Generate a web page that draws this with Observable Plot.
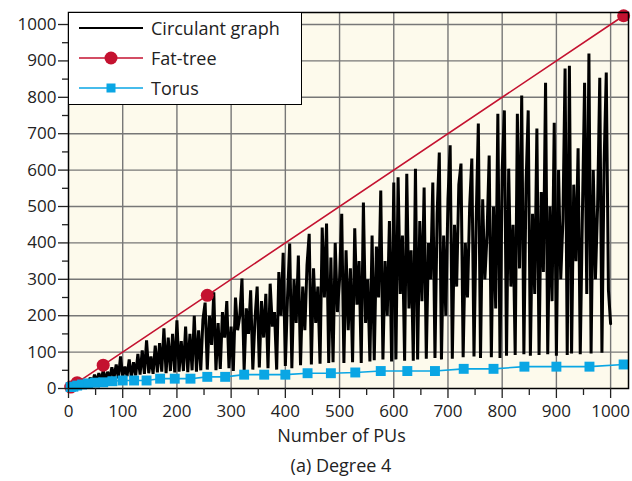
<!DOCTYPE html>
<html>
<head>
<meta charset="utf-8">
<script src="https://cdn.jsdelivr.net/npm/d3@7"></script>
<script src="https://cdn.jsdelivr.net/npm/@observablehq/plot@0.6"></script>
<style>
  html, body { margin: 0; padding: 0; background: #ffffff; }
  #wrap { position: relative; width: 632px; height: 481px; font-family: "Open Sans", sans-serif; color: #222; }
  #caption { position: absolute; left: 0; top: 452px; width: 682px; text-align: center; font-size: 18px; line-height: 26px; }
  #legend { position: absolute; left: 68px; top: 12px; width: 232px; height: 91px; background: #fff; border: 1.5px solid #000; }
  #legend .row { position: absolute; left: 0; height: 30px; width: 232px; }
  #legend svg { position: absolute; left: 8px; top: 0; }
  #legend span { position: absolute; left: 82px; top: 2px; font-size: 18px; line-height: 26px; }
</style>
</head>
<body>
<div id="wrap">
  <div id="chart"></div>
  <div id="legend"></div>
  <div id="caption">(a) Degree 4</div>
</div>
<script>
// ---------- data ----------
// Circulant graph, x = 4, 8, ..., 1000
const circulantX = d3.range(4, 1001, 4);
const circulantY = [
  3, 7, 4, 12, 6, 17, 8, 24, 10, 30,
  14, 38, 18, 42, 20, 50, 22, 46, 26, 58,
  30, 66, 28, 88, 32, 60, 34, 80, 30, 72,
  36, 95, 38, 105, 40, 132, 42, 88, 40, 118,
  44, 125, 46, 165, 42, 140, 48, 150, 44, 187,
  46, 130, 48, 170, 45, 150, 50, 200, 46, 160,
  50, 190, 236, 52, 200, 120, 264, 50, 180, 54,
  210, 140, 240, 56, 170, 48, 250, 160, 200, 302,
  50, 220, 150, 270, 52, 190, 280, 58, 240, 140,
  260, 56, 288, 170, 210, 52, 320, 200, 373, 62,
  250, 398, 56, 300, 180, 365, 64, 280, 160, 340,
  425, 66, 330, 180, 280, 68, 442, 250, 453, 70,
  360, 72, 400, 210, 300, 480, 70, 380, 160, 330,
  72, 440, 230, 350, 70, 511, 180, 300, 74, 420,
  78, 390, 250, 544, 80, 350, 200, 460, 74, 566,
  80, 580, 260, 420, 76, 590, 220, 380, 76, 604,
  80, 460, 240, 552, 82, 400, 300, 566, 84, 480,
  648, 80, 420, 200, 520, 668, 82, 450, 280, 560,
  618, 86, 400, 250, 500, 632, 88, 460, 728, 84,
  520, 300, 420, 640, 86, 500, 220, 755, 84, 600,
  764, 90, 604, 280, 450, 92, 755, 330, 805, 94,
  560, 764, 90, 480, 260, 714, 92, 540, 320, 840,
  94, 500, 240, 730, 90, 600, 300, 460, 879, 92,
  887, 96, 560, 350, 660, 94, 480, 840, 260, 920,
  96, 600, 300, 500, 854, 98, 620, 868, 270, 178
];
// Fat-tree
const fatX = [4, 16, 64, 256, 1024];
const fatY = [4, 16, 64, 256, 1024];
// Torus
const torusX = [4, 9, 16, 25, 36, 49, 64, 81, 100, 121, 144, 169, 196, 225, 256, 289, 324, 361, 400,
                441, 484, 529, 576, 625, 676, 729, 784, 841, 900, 961, 1024];
const torusY = [4, 5, 8, 11, 14, 16, 17, 20, 22, 22, 22, 27, 27, 27, 32, 32, 38, 38, 38,
                42, 42, 44, 48, 48, 48, 54, 54, 60, 60, 60, 66];

const xTicks = d3.range(0, 1001, 100);
const yTicks = d3.range(0, 1001, 100);
const minorTicks = d3.range(50, 1001, 100);

const circ = circulantX.map((x, i) => ({x, y: circulantY[i]}));
const fat = fatX.map((x, i) => ({x, y: fatY[i]}));
const torus = torusX.map((x, i) => ({x, y: torusY[i]}));

const RED = "#c41230";
const BLUE = "#0aa6e4";

const chart = Plot.plot({
  width: 632,
  height: 452,
  marginLeft: 68,
  marginRight: 4,
  marginTop: 12,
  marginBottom: 64,
  style: {fontFamily: "Open Sans, sans-serif", fontSize: "17px", color: "#222", background: "transparent", overflow: "visible"},
  x: {domain: [0, 1033]},
  y: {domain: [0, 1033]},
  marks: [
    Plot.frame({fill: "#fdfaec", stroke: null}),
    Plot.gridX(xTicks.slice(1), {stroke: "#777", strokeOpacity: 1, strokeWidth: 1.4}),
    Plot.gridY(yTicks.slice(1), {stroke: "#777", strokeOpacity: 1, strokeWidth: 1.4}),
    Plot.line(circ, {x: "x", y: "y", stroke: "#000", strokeWidth: 3, strokeLinejoin: "miter"}),
    Plot.line(fat, {x: "x", y: "y", stroke: RED, strokeWidth: 1.6}),
    Plot.dot(fat, {x: "x", y: "y", r: 6.5, fill: RED, stroke: null}),
    Plot.line(torus, {x: "x", y: "y", stroke: BLUE, strokeWidth: 1.6}),
    Plot.dot(torus, {x: "x", y: "y", r: 5.6, symbol: "square", fill: BLUE, stroke: null}),
    Plot.frame({stroke: "#000", strokeWidth: 1.5}),
    Plot.axisX(xTicks, {tickSize: 10, tickPadding: 6, strokeWidth: 1.3, label: null, fontSize: 17, tickFormat: "d"}),
    Plot.axisX(minorTicks, {tickSize: 7, text: null, strokeWidth: 1.3, label: null}),
    Plot.axisY(yTicks, {tickSize: 10, tickPadding: 2, strokeWidth: 1.3, label: null, fontSize: 17, tickFormat: "d"}),
    Plot.axisY(minorTicks, {tickSize: 6, text: null, strokeWidth: 1.3, label: null}),
    Plot.text(["Number of PUs"], {frameAnchor: "bottom", dy: 53, dx: -7, fontSize: 18, fill: "#222"})
  ]
});
document.getElementById("chart").appendChild(chart);

// ---------- legend ----------
const legendItems = [
  {label: "Circulant graph", color: "#000", marker: null},
  {label: "Fat-tree", color: RED, marker: "circle"},
  {label: "Torus", color: BLUE, marker: "square"}
];
const legend = document.getElementById("legend");
legendItems.forEach((d, i) => {
  const row = document.createElement("div");
  row.className = "row";
  row.style.top = (i * 30) + "px";
  let m = "";
  if (d.marker === "circle") m = `<circle cx="34" cy="15" r="6.5" fill="${d.color}"/>`;
  if (d.marker === "square") m = `<rect x="29.5" y="10.5" width="9" height="9" fill="${d.color}"/>`;
  row.innerHTML = `<svg width="70" height="30"><line x1="2" x2="66" y1="15" y2="15" stroke="${d.color}" stroke-width="${d.marker ? 1.6 : 2}"/>${m}</svg><span>${d.label}</span>`;
  legend.appendChild(row);
});
</script>
</body>
</html>
